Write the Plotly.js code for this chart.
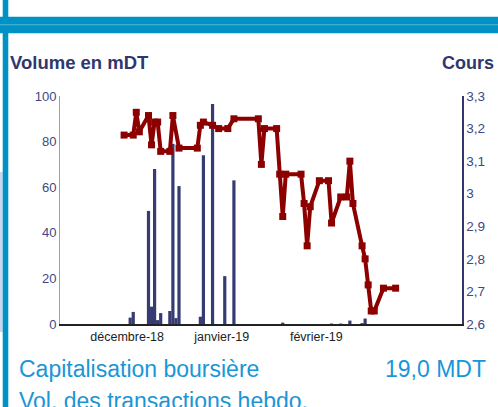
<!DOCTYPE html>
<html>
<head>
<meta charset="utf-8">
<script src="https://cdn.plot.ly/plotly-3.0.1.min.js"></script>
<style>
  html, body { margin: 0; padding: 0; background: #fff; }
  #chart { width: 498px; height: 407px; }
</style>
</head>
<body>
<div id="chart"></div>
<script>
// Volume (mDT) bars
const volDates = ["2018-12-02","2018-12-03","2018-12-08","2018-12-09","2018-12-10","2018-12-11","2018-12-12",
  "2018-12-15","2018-12-16","2018-12-17","2018-12-18","2018-12-25","2018-12-26","2018-12-29","2019-01-02","2019-01-05",
  "2019-01-21","2019-02-06","2019-02-09","2019-02-12","2019-02-16","2019-02-17"];
const volValues = [2.8,5.3,49.6,7.6,68,1.7,4.8,5.7,79,2.6,60.5,3.2,74,96.5,21,63,0.6,0.2,0.2,1.5,0.4,2.4];

// Cours (price) line
const priceDates = ["2018-11-30","2018-12-03","2018-12-04","2018-12-05","2018-12-08","2018-12-09","2018-12-10","2018-12-11",
  "2018-12-12","2018-12-15","2018-12-16","2018-12-18","2018-12-24","2018-12-25","2018-12-26","2018-12-29","2018-12-31",
  "2019-01-03","2019-01-05","2019-01-13","2019-01-14","2019-01-15","2019-01-19","2019-01-20","2019-01-21","2019-01-22",
  "2019-01-27","2019-01-28","2019-01-29","2019-01-30","2019-02-02","2019-02-05","2019-02-06","2019-02-09","2019-02-11",
  "2019-02-12","2019-02-13","2019-02-16","2019-02-17","2019-02-18","2019-02-19","2019-02-20","2019-02-23","2019-02-27"];
const priceValues = [3.18,3.18,3.25,3.19,3.24,3.15,3.22,3.22,3.13,3.13,3.24,3.14,3.14,3.21,3.22,3.21,3.20,
  3.20,3.23,3.23,3.09,3.20,3.20,3.06,2.93,3.06,3.06,2.97,2.84,2.96,3.04,3.04,2.91,2.99,2.99,
  3.10,2.97,2.84,2.80,2.72,2.64,2.64,2.71,2.71];

// Tick labels
const monthTickVals = ["2018-12-01","2019-01-01","2019-02-01"];
const monthTickText = ["décembre-18","janvier-19","février-19"];
const volTickVals = [0,20,40,60,80,100];
const priceTickVals = [2.6,2.7,2.8,2.9,3.0,3.1,3.2,3.3];
const priceTickText = ["2,6","2,7","2,8","2,9","3","3,1","3,2","3,3"];

// pixel -> paper helpers (plot area: x 60..462, y 96..324)
const L = 60, R = 462, T = 96, B = 324;
const px = x => (x - L) / (R - L);
const py = y => (B - y) / (B - T);

const FONT = "Liberation Sans, Arial, sans-serif";
const BLUE = "#0092c4";

const traces = [
  {
    type: "bar", x: volDates, y: volValues, yaxis: "y",
    marker: { color: "#363c72" }, width: 86400000 * 1.05, hoverinfo: "skip"
  },
  {
    type: "scatter", mode: "lines+markers", x: priceDates, y: priceValues, yaxis: "y2",
    line: { color: "#8c0000", width: 4 },
    marker: { color: "#8c0000", symbol: "square", size: 7 }, hoverinfo: "skip"
  }
];

const layout = {
  width: 498, height: 407,
  margin: { l: L, r: 498 - R, t: T, b: 407 - B, pad: 0 },
  paper_bgcolor: "#ffffff", plot_bgcolor: "#ffffff",
  showlegend: false,
  font: { family: FONT },
  xaxis: {
    type: "date",
    range: ["2018-11-09", "2019-03-20 18:00"],
    tickvals: monthTickVals, ticktext: monthTickText,
    ticks: "", showgrid: false, zeroline: false,
    showline: true, linecolor: "#222222", linewidth: 1.5,
    tickfont: { size: 12.5, color: "#222222", family: FONT }
  },
  yaxis: {
    range: [0, 100], tickvals: volTickVals,
    ticks: "", showgrid: false, zeroline: false,
    showline: true, linecolor: "#9c9dbb", linewidth: 1,
    tickfont: { size: 13, color: "#3d4888", family: FONT }
  },
  yaxis2: {
    overlaying: "y", side: "right",
    range: [2.6, 3.3], tickvals: priceTickVals, ticktext: priceTickText,
    ticks: "", showgrid: false, zeroline: false,
    showline: true, linecolor: "#30366e", linewidth: 1.5,
    tickfont: { size: 13.5, color: "#3d4888", family: FONT }
  },
  shapes: [
    { type: "rect", xref: "paper", yref: "paper", x0: px(0), x1: px(2.7), y0: py(332), y1: py(172),
      fillcolor: "#c9d6ef", line: { width: 0 }, layer: "below" },
    { type: "rect", xref: "paper", yref: "paper", x0: px(2.7), x1: px(8.3), y0: py(407), y1: py(0),
      fillcolor: BLUE, line: { width: 0 } },
    { type: "rect", xref: "paper", yref: "paper", x0: px(0), x1: px(498), y0: py(33.3), y1: py(16.7),
      fillcolor: BLUE, line: { width: 0 } },
    { type: "rect", xref: "paper", yref: "paper", x0: px(0), x1: px(498), y0: py(25.3), y1: py(24.3),
      fillcolor: "#55b8dc", line: { width: 0 } }
  ],
  annotations: [
    { xref: "paper", yref: "paper", x: px(8), y: py(62.5), xanchor: "left", yanchor: "middle",
      text: "<b>Volume en mDT</b>", showarrow: false, font: { size: 18.5, color: "#2f376c", family: FONT } },
    { xref: "paper", yref: "paper", x: px(496), y: py(62.5), xanchor: "right", yanchor: "middle",
      text: "<b>Cours</b>", showarrow: false, font: { size: 18, color: "#2f376c", family: FONT } },
    { xref: "paper", yref: "paper", x: px(17), y: py(369), xanchor: "left", yanchor: "middle",
      text: "Capitalisation boursière", showarrow: false, font: { size: 23, color: "#1a96d6", family: FONT } },
    { xref: "paper", yref: "paper", x: px(488), y: py(369), xanchor: "right", yanchor: "middle",
      text: "19,0 MDT", showarrow: false, font: { size: 23, color: "#1a96d6", family: FONT } },
    { xref: "paper", yref: "paper", x: px(17), y: py(400.5), xanchor: "left", yanchor: "middle",
      text: "Vol. des transactions hebdo.", showarrow: false, font: { size: 23, color: "#1a96d6", family: FONT } }
  ]
};

Plotly.newPlot("chart", traces, layout, { staticPlot: true, displayModeBar: false });
</script>
</body>
</html>
